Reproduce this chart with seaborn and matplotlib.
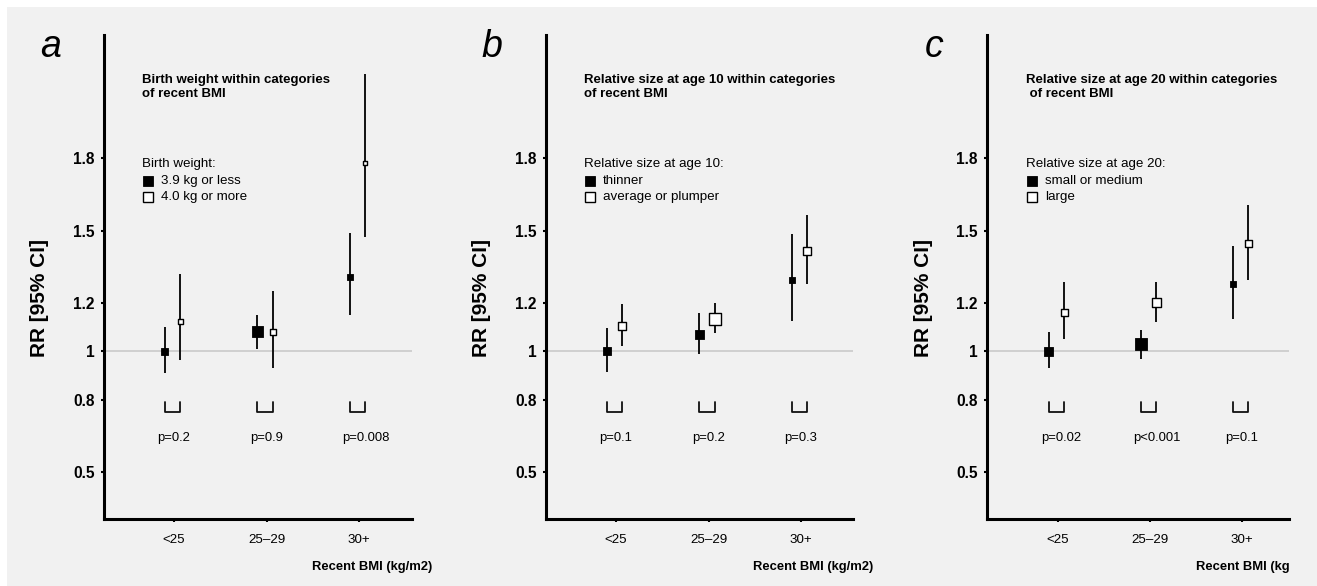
import matplotlib
matplotlib.use("Agg")
import matplotlib.pyplot as plt
import seaborn as sns
import pandas as pd
from matplotlib.patches import Rectangle

# categories of recent BMI
categories = ["<25", "25–29", "30+"]
y_ticks = [0.5, 0.8, 1, 1.2, 1.5, 1.8]
y_tick_labels = ["0.5", "0.8", "1", "1.2", "1.5", "1.8"]

# panel a: birth weight
a_low_rr = [1.00, 1.08, 1.306]
a_low_lo = [0.91, 1.01, 1.149]
a_low_hi = [1.10, 1.15, 1.49]
a_high_rr = [1.124, 1.08, 1.78]
a_high_lo = [0.963, 0.93, 1.475]
a_high_hi = [1.32, 1.25, 2.15]
a_pvals = ["p=0.2", "p=0.9", "p=0.008"]
a_low_px = [7, 11, 6]
a_high_px = [5, 6, 4]

# panel b: relative size at age 10
b_low_rr = [1.00, 1.07, 1.297]
b_low_lo = [0.913, 0.988, 1.124]
b_low_hi = [1.095, 1.16, 1.487]
b_high_rr = [1.103, 1.132, 1.417]
b_high_lo = [1.02, 1.074, 1.28]
b_high_hi = [1.194, 1.198, 1.566]
b_pvals = ["p=0.1", "p=0.2", "p=0.3"]
b_low_px = [8, 9, 6]
b_high_px = [8, 12, 8]

# panel c: relative size at age 20
c_low_rr = [1.00, 1.03, 1.277]
c_low_lo = [0.93, 0.967, 1.132]
c_low_hi = [1.08, 1.087, 1.434]
c_high_rr = [1.16, 1.20, 1.446]
c_high_lo = [1.05, 1.12, 1.297]
c_high_hi = [1.285, 1.285, 1.607]
c_pvals = ["p=0.02", "p<0.001", "p=0.1"]
c_low_px = [9, 12, 6]
c_high_px = [7, 9, 7]

panels = [
    dict(letter="a", title="Birth weight within categories\nof recent BMI",
         leg_title="Birth weight:", leg_low="3.9 kg or less", leg_high="4.0 kg or more",
         xlabel="Recent BMI (kg/m2)", xlab_x=0.675,
         low=(a_low_rr, a_low_lo, a_low_hi, a_low_px),
         high=(a_high_rr, a_high_lo, a_high_hi, a_high_px), p=a_pvals,
         pos=[104, 308], xlim=(0.243, 3.573)),
    dict(letter="b", title="Relative size at age 10 within categories\nof recent BMI",
         leg_title="Relative size at age 10:", leg_low="thinner", leg_high="average or plumper",
         xlabel="Recent BMI (kg/m2)", xlab_x=0.675,
         low=(b_low_rr, b_low_lo, b_low_hi, b_low_px),
         high=(b_high_rr, b_high_lo, b_high_hi, b_high_px), p=b_pvals,
         pos=[546, 307], xlim=(0.243, 3.56)),
    dict(letter="c", title="Relative size at age 20 within categories\n of recent BMI",
         leg_title="Relative size at age 20:", leg_low="small or medium", leg_high="large",
         xlabel="Recent BMI (kg", xlab_x=0.692,
         low=(c_low_rr, c_low_lo, c_low_hi, c_low_px),
         high=(c_high_rr, c_high_lo, c_high_hi, c_high_px), p=c_pvals,
         pos=[987, 302], xlim=(0.228, 3.51)),
]

sns.set_style("ticks")
plt.rcParams['font.family'] = ['Liberation Sans', 'DejaVu Sans']
plt.rcParams['text.color'] = 'black'
plt.rcParams['axes.labelcolor'] = 'black'
plt.rcParams['xtick.color'] = 'black'
plt.rcParams['ytick.color'] = 'black'
plt.rcParams['axes.edgecolor'] = 'black'

W, H = 1317, 586
BG = "#f1f1f1"
fig = plt.figure(figsize=(W / 100, H / 100), dpi=100, facecolor=BG)
# white strips at top and left of the scan
fig.patches.append(Rectangle((0, 1 - 7 / H), 1, 7 / H, transform=fig.transFigure,
                             facecolor="white", edgecolor="none", zorder=-1))
fig.patches.append(Rectangle((0, 0), 7 / W, 1, transform=fig.transFigure,
                             facecolor="white", edgecolor="none", zorder=-1))

d_low, d_high = -0.10, 0.065


def sq(px):
    return (px * 0.72) ** 2


for p in panels:
    left, width = p["pos"]
    ax = fig.add_axes([left / W, 67 / H, width / W, 484 / H])
    ax.set_facecolor("none")

    xs = [1, 2, 3]
    rr, lo, hi, px = p["low"]
    rr2, lo2, hi2, px2 = p["high"]
    df_low = pd.DataFrame({"x": [x + d_low for x in xs], "rr": rr})
    df_high = pd.DataFrame({"x": [x + d_high for x in xs], "rr": rr2})

    ax.axhline(1, color="#c6c6c6", lw=1.1, zorder=0)
    ax.vlines(df_low["x"], lo, hi, color="#111111", lw=1.4, zorder=2)
    ax.vlines(df_high["x"], lo2, hi2, color="#111111", lw=1.4, zorder=2)
    sns.scatterplot(data=df_low, x="x", y="rr", ax=ax, marker="s", s=[sq(v) for v in px],
                    color="black", edgecolor="black", linewidth=0.6, zorder=3, legend=False)
    sns.scatterplot(data=df_high, x="x", y="rr", ax=ax, marker="s", s=[sq(v) for v in px2],
                    color="white", edgecolor="black", linewidth=1.0, zorder=3, legend=False)

    # brackets and p-values
    for x, ptxt in zip(xs, p["p"]):
        bx0, bx1 = x + d_low, x + d_high
        ax.plot([bx0, bx0, bx1, bx1], [0.79, 0.748, 0.748, 0.79], color="#111111", lw=1.3)
        ax.text(x - 0.18, 0.64, ptxt, ha="left", va="center", fontsize=9.4)

    # title and legend
    ax.text(0.655, 2.095, p["title"], ha="left", va="center", fontsize=9.5,
            fontweight="bold", linespacing=1.25)
    ax.text(0.655, 1.777, p["leg_title"], ha="left", va="center", fontsize=9.6)
    ax.plot([0.716], [1.707], marker="s", ms=7.2, color="black", mec="black", mew=0.6)
    ax.plot([0.716], [1.64], marker="s", ms=7.2, color="white", mec="black", mew=1.0)
    ax.text(0.86, 1.707, p["leg_low"], ha="left", va="center", fontsize=9.6)
    ax.text(0.86, 1.64, p["leg_high"], ha="left", va="center", fontsize=9.6)

    ax.text(-0.175, 0.975, p["letter"], transform=ax.transAxes, fontsize=27,
            style="italic", ha="center", va="center")

    ax.set_xlim(*p["xlim"])
    ax.set_ylim(0.305, 2.31)
    ax.set_xticks(xs)
    ax.set_xticklabels(categories, fontsize=9.6)
    ax.set_yticks(y_ticks)
    ax.set_yticklabels(y_tick_labels, fontsize=11.2, fontweight="bold")
    ax.tick_params(axis="y", length=2.5, width=1.5, pad=4)
    ax.tick_params(axis="x", length=2.5, width=1.5, pad=8)
    ax.set_xlabel("")
    ax.set_ylabel("RR [95% CI]", fontsize=15, fontweight="bold")
    ax.yaxis.set_label_coords(-0.18, 0.457)
    ax.text(p["xlab_x"], -0.099, p["xlabel"], transform=ax.transAxes,
            ha="left", va="center", fontsize=9.4, fontweight="bold")

    sns.despine(ax=ax)
    for s in ["left", "bottom"]:
        ax.spines[s].set_linewidth(2.2)
        ax.spines[s].set_color("black")

fig.savefig("out.png", dpi=100, facecolor=BG)
